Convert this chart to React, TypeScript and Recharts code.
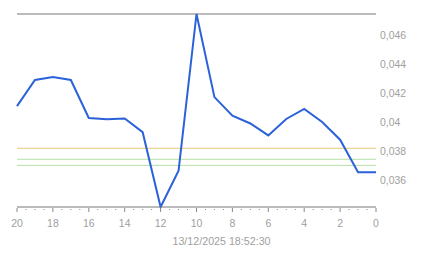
import { LineChart, Line, XAxis, YAxis, ReferenceLine } from 'recharts';

// seconds ago (left = oldest)
const X_POS = [20, 19, 18, 17, 16, 15, 14, 13, 12, 11, 10, 9, 8, 7, 6, 5, 4, 3, 2, 1, 0];
const VALUES = [
  0.0411, 0.0429, 0.0431, 0.0429, 0.04028, 0.0402, 0.04024, 0.0393, 0.03414, 0.03664,
  0.04745, 0.04172, 0.04044, 0.0399, 0.03908, 0.04021, 0.0409, 0.0400, 0.03878, 0.03653, 0.03653,
];
const X_LABELS = [20, 18, 16, 14, 12, 10, 8, 6, 4, 2, 0];
const Y_TICKS = [0.036, 0.038, 0.04, 0.042, 0.044, 0.046];
const ORANGE_LEVELS = [0.03819];
const GREEN_LEVELS = [0.03743, 0.03701];
const TIMESTAMP = '13/12/2025 18:52:30';

const MINOR_TICKS = Array.from({ length: 41 }, (_, i) => 20 - i * 0.5);

const data = X_POS.map((x, i) => ({ x, v: VALUES[i] }));
const maxV = Math.max(...VALUES);

const FONT = 'Arial, "Liberation Sans", sans-serif';
const TEXT = '#a0a0a0';

function XTick({ x, y, payload }: any) {
  const major = X_LABELS.includes(payload.value);
  return (
    <g>
      <line
        x1={x} x2={x}
        y1={y + (major ? 1 : 2)} y2={y + (major ? 5 : 3)}
        stroke="#888" strokeWidth={1}
      />
      {major && (
        <text x={x} y={y + 20} textAnchor="middle" fontSize={10.5} fill={TEXT} fontFamily={FONT}>
          {payload.value}
        </text>
      )}
    </g>
  );
}

function YTick({ x, y, payload }: any) {
  const label = String(Number(payload.value.toFixed(3))).replace('.', ',');
  return (
    <text x={x} y={y + 4} textAnchor="start" fontSize={10.4} fill={TEXT} fontFamily={FONT}>
      {label}
    </text>
  );
}

export default function App() {
  return (
    <div style={{ position: 'absolute', left: 0, top: 0, width: 443, height: 258, background: '#fff' }}>
      <LineChart
        width={443}
        height={258}
        data={data}
        margin={{ top: 14, right: 0, left: 17, bottom: 0 }}
      >
        <XAxis
          dataKey="x"
          type="number"
          domain={[0, 20]}
          reversed
          ticks={MINOR_TICKS}
          interval={0}
          tick={<XTick />}
          tickLine={false}
          tickSize={0}
          tickMargin={0}
          axisLine={{ stroke: '#777' }}
          height={51}
        />
        <YAxis
          orientation="right"
          domain={['dataMin', 'dataMax']}
          ticks={Y_TICKS}
          tick={<YTick />}
          tickLine={false}
          tickSize={0}
          tickMargin={4}
          axisLine={false}
          width={67}
        />
        <ReferenceLine y={maxV} stroke="#777" strokeWidth={1} />
        {ORANGE_LEVELS.map((l) => (
          <ReferenceLine key={'o' + l} y={l} stroke="#e8c878" strokeWidth={1} />
        ))}
        {GREEN_LEVELS.map((l) => (
          <ReferenceLine key={'g' + l} y={l} stroke="#b5dfa5" strokeWidth={1} />
        ))}
        <Line
          dataKey="v"
          type="linear"
          stroke="#2b62d9"
          strokeWidth={2}
          dot={false}
          activeDot={false}
          isAnimationActive={false}
        />
      </LineChart>
      <div
        style={{
          position: 'absolute', left: 0, top: 235, width: 443, textAlign: 'center',
          fontSize: 10.7, lineHeight: '12px', color: TEXT, fontFamily: FONT,
        }}
      >
        {TIMESTAMP}
      </div>
    </div>
  );
}
